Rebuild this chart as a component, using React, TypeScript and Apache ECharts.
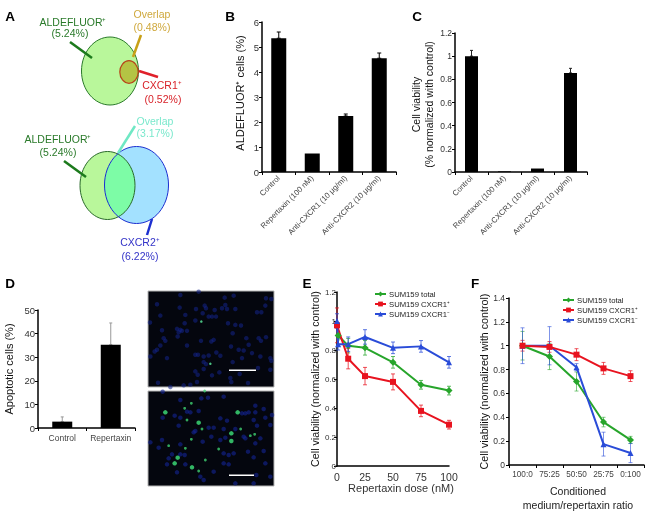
import React, { useEffect, useRef } from "react";
import * as echarts from "echarts";

const FONT = '"Liberation Sans", Arial, sans-serif';
const NARROW = '"Liberation Sans Narrow", "Liberation Sans", Arial, sans-serif';

const treatments = ["Control", "Repertaxin (100 nM)", "Anti-CXCR1 (10 μg/ml)", "Anti-CXCR2 (10 μg/ml)"];
const aldefluorPct = [5.35, 0.74, 2.24, 4.55];
const aldefluorErr = [0.25, 0, 0.08, 0.21];
const viabilityC = [1, 0.005, 0.03, 0.855];
const viabilityCErr = [0.05, 0, 0, 0.04];
const apoptosisCats = ["Control", "Repertaxin"];
const apoptosis = [2.7, 35.3];
const apoptosisErr = [2, 9.2];

const TOTAL = "SUM159 total";
const POS = "SUM159 CXCR1⁺";
const NEG = "SUM159 CXCR1⁻";

// [dose, viability, error]
const eTotal = [[1, 0.9, 0.03], [10, 0.83, 0.05], [25, 0.815, 0.05], [50, 0.715, 0.04], [75, 0.56, 0.03], [100, 0.52, 0.03]];
const ePos = [[0, 0.97, 0.12], [10, 0.74, 0.07], [25, 0.62, 0.06], [50, 0.58, 0.055], [75, 0.38, 0.04], [100, 0.285, 0.03]];
const eNeg = [[0, 1, 0.05], [1, 0.84, 0.04], [10, 0.84, 0.05], [25, 0.89, 0.05], [50, 0.815, 0.04], [75, 0.825, 0.04], [100, 0.715, 0.04]];

const ratios = ["100:0", "75:25", "50:50", "25:75", "0:100"];
const fTotal = [1, 0.91, 0.7, 0.36, 0.21];
const fTotalErr = [0.12, 0.11, 0.08, 0.04, 0.03];
const fPos = [1, 0.99, 0.925, 0.81, 0.745];
const fPosErr = [0.045, 0.045, 0.05, 0.05, 0.045];
const fNeg = [1, 1, 0.82, 0.175, 0.1];
const fNegErr = [0.15, 0.16, 0.03, 0.1, 0.08];

const nuclei1 = [[160,10],[105,20],[238,28],[265,22],[362,30],[378,32],[35,48],[103,58],[178,52],[182,60],[152,62],[240,50],[230,60],[245,62],[208,65],[270,62],[360,52],[335,72],[348,72],[45,82],[120,80],[172,75],[190,85],[200,85],[212,85],[150,97],[118,105],[14,103],[248,105],[270,110],[287,112],[50,126],[95,122],[105,125],[110,128],[100,132],[125,128],[97,145],[262,135],[55,150],[60,158],[303,150],[340,150],[362,147],[347,158],[205,155],[198,160],[167,158],[45,172],[35,185],[28,190],[125,172],[257,175],[310,170],[280,185],[295,187],[320,195],[345,205],[375,210],[15,205],[65,210],[150,200],[158,200],[175,205],[190,202],[213,193],[225,203],[175,222],[182,228],[262,222],[290,210],[378,218],[175,243],[150,250],[157,260],[222,253],[200,262],[283,258],[255,270],[258,282],[338,240],[375,245],[155,282],[135,290],[115,292],[38,284],[308,285],[75,297]];
const apoptotic1 = [[168,100],[195,227]];
const nuclei2 = [[52,10],[235,25],[105,35],[168,30],[188,28],[330,52],[355,62],[310,72],[300,75],[290,75],[330,72],[160,68],[125,70],[135,72],[88,82],[52,88],[105,88],[225,90],[245,97],[325,95],[360,88],[380,80],[100,112],[190,118],[205,118],[150,128],[145,132],[235,122],[270,122],[335,112],[375,110],[198,145],[225,155],[295,145],[300,150],[240,148],[345,150],[15,162],[50,155],[172,160],[105,168],[40,178],[355,188],[308,190],[330,165],[235,195],[250,200],[265,195],[80,198],[105,198],[118,200],[325,207],[70,210],[65,228],[120,228],[235,225],[250,228],[95,252],[205,250],[165,265],[175,275],[325,285],[333,260],[375,265],[270,285],[360,225]];
const apoptoticBig2 = [[60,72],[160,103],[258,135],[258,158],[97,208],[88,225],[140,237],[277,72]];
const apoptoticSmall2 = [[118,60],[138,45],[125,95],[170,122],[138,153],[286,122],[315,142],[328,138],[70,172],[120,180],[220,182],[180,215],[160,248],[178,8]];

const GREEN = "#27a52b";
const RED = "#e8131f";
const BLUE = "#2a4cd8";

function errSeries(xi: number, points: number[][], color: string, cap: number, width = 1, opacity = 1) {
  return {
    type: "custom",
    coordinateSystem: "cartesian2d",
    xAxisIndex: xi,
    yAxisIndex: xi,
    silent: true,
    z: 1,
    clip: false,
    encode: { x: 0, y: [1, 2] },
    data: points,
    renderItem: (_: any, api: any) => {
      const a = api.coord([api.value(0), api.value(1)]);
      const b = api.coord([api.value(0), api.value(2)]);
      const style = { stroke: color, lineWidth: width, opacity };
      const mk = (x1: number, y1: number, x2: number, y2: number) => ({ type: "line", shape: { x1, y1, x2, y2 }, style });
      return {
        type: "group",
        children: [mk(a[0], a[1], b[0], b[1]), mk(a[0] - cap, a[1], a[0] + cap, a[1]), mk(b[0] - cap, b[1], b[0] + cap, b[1])],
      };
    },
  };
}

const upper = (vals: number[], errs: number[]) => vals.map((v, i) => [i, v, v + errs[i]]).filter((p) => p[2] > p[1]);
const both = (vals: number[], errs: number[]) => vals.map((v, i) => [i, v - errs[i], v + errs[i]]);
const bothXY = (pts: number[][]) => pts.map((p) => [p[0], p[1] - p[2], p[1] + p[2]]);

function lineSeries(name: string, xi: number, data: any[], color: string, symbol: string, size: number) {
  return {
    type: "line",
    name,
    xAxisIndex: xi,
    yAxisIndex: xi,
    data,
    clip: false,
    z: 3,
    symbol,
    symbolSize: size,
    lineStyle: { color, width: 2 },
    itemStyle: { color },
  };
}

function barSeries(xi: number, data: number[], width: number) {
  return { type: "bar", xAxisIndex: xi, yAxisIndex: xi, data, barWidth: width, itemStyle: { color: "#000" }, z: 2 };
}

function scatter(xi: number, data: number[][], color: string, size: number) {
  return { type: "scatter", xAxisIndex: xi, yAxisIndex: xi, data, symbol: "circle", symbolSize: size, itemStyle: { color }, silent: true };
}

function txt(text: string, x: number, y: number, fill: string, size = 10.5, extra: any = {}) {
  return {
    type: "text",
    silent: true,
    style: { text, x, y, fill, font: `${size}px ${FONT}`, textAlign: "center", verticalAlign: "middle", ...extra },
  };
}
function seg(x1: number, y1: number, x2: number, y2: number, stroke: string, lineWidth = 2.5) {
  return { type: "line", silent: true, shape: { x1, y1, x2, y2 }, style: { stroke, lineWidth } };
}
function ell(cx: number, cy: number, rx: number, ry: number, fill: string, stroke: string, lineWidth = 1) {
  return { type: "ellipse", silent: true, shape: { cx, cy, rx, ry }, style: { fill, stroke, lineWidth } };
}
function lens(a: number[], b: number[]) {
  const inside = (e: number[], x: number, y: number) => ((x - e[0]) / e[2]) ** 2 + ((y - e[1]) / e[3]) ** 2 <= 1;
  const trace = (e: number[], o: number[]) => {
    const out: number[][] = [];
    for (let i = 0; i < 360; i += 2) {
      const t = (i * Math.PI) / 180;
      const x = e[0] + e[2] * Math.cos(t);
      const y = e[1] + e[3] * Math.sin(t);
      if (inside(o, x, y)) out.push([x, y]);
    }
    return out;
  };
  const pts = [...trace(a, b), ...trace(b, a)];
  const mx = (a[0] + b[0] + a[2] - b[2]) / 2;
  const my = (a[1] + b[1]) / 2;
  return pts.sort((p, q) => Math.atan2(p[1] - my, p[0] - mx) - Math.atan2(q[1] - my, q[0] - mx));
}

const axisLine = { show: true, onZero: false, lineStyle: { color: "#000", width: 1.5 } };
const tick = { show: true, length: 3, lineStyle: { color: "#000", width: 1 } };

function catAxis(i: number, data: string[], labelSize: number, rotate = 0, extra: any = {}) {
  return {
    type: "category",
    gridIndex: i,
    data,
    axisLine,
    axisTick: tick,
    axisLabel: { fontFamily: FONT, fontSize: labelSize, color: "#444", rotate, margin: 5, interval: 0 },
    ...extra,
  };
}
function valAxis(i: number, max: number, interval: number, name: string, nameGap: number, labelSize: number, extra: any = {}) {
  const { axisLabel, nameTextStyle, ...rest } = extra;
  return {
    type: "value",
    gridIndex: i,
    min: 0,
    max,
    interval,
    name,
    nameLocation: "middle",
    nameRotate: 90,
    nameGap,
    nameTextStyle: { fontFamily: FONT, fontSize: 11, color: "#111", ...nameTextStyle },
    axisLine,
    axisTick: tick,
    splitLine: { show: false },
    axisLabel: { fontFamily: FONT, fontSize: labelSize, color: "#333", margin: 3, ...axisLabel },
    ...rest,
  };
}
const hiddenX = (i: number) => ({ type: "value", gridIndex: i, min: 8, max: 386, show: false, splitLine: { show: false } });
const hiddenY = (i: number, max: number) => ({ type: "value", gridIndex: i, min: 8, max, inverse: true, show: false, splitLine: { show: false } });

const legendCommon = {
  orient: "vertical",
  selectedMode: false,
  itemWidth: 11,
  itemHeight: 6,
  itemGap: 2,
  padding: 0,
  textStyle: { fontFamily: FONT, fontSize: 7.7, color: "#222", padding: [0, 0, 0, -2] },
  data: [TOTAL, POS, NEG],
};

const vennA = [110, 71, 28.5, 34];
const vennB1 = [107.5, 185.5, 27.5, 34];
const vennB2 = [136.5, 185, 32, 38.5];
const letterFont = `bold 13.5px ${FONT}`;

export default function App() {
  const ref = useRef<HTMLDivElement>(null);
  useEffect(() => {
    const chart = echarts.init(ref.current!, undefined, { renderer: "svg" });
    const grid = (left: number, top: number, width: number, height: number, extra: any = {}) => ({ left, top, width, height, containLabel: false, ...extra });
    const imgGrid = { show: true, backgroundColor: "#04060e", borderColor: "#b5b5b5", borderWidth: 1 };
    const option: any = {
      animation: false,
      backgroundColor: "#fff",
      grid: [
        grid(262, 22, 134, 150),
        grid(455, 33, 132, 139),
        grid(38, 310, 97, 118),
        grid(337, 292, 112, 174),
        grid(509, 298, 135, 167),
        grid(148, 291, 126, 96, imgGrid),
        grid(148, 391, 126, 95, imgGrid),
      ],
      xAxis: [
        catAxis(0, treatments, 7.8, 45),
        catAxis(1, treatments, 7.8, 45),
        catAxis(2, apoptosisCats, 8.5),
        {
          type: "value",
          gridIndex: 3,
          min: 0,
          max: 100,
          interval: 25,
          name: "Repertaxin dose (nM)",
          nameLocation: "middle",
          nameGap: 15,
          nameTextStyle: { fontFamily: FONT, fontSize: 11, color: "#333", padding: [0, 0, 0, 16] },
          axisLine,
          axisTick: { show: false },
          splitLine: { show: false },
          axisLabel: { fontFamily: FONT, fontSize: 10.5, color: "#333", margin: 5 },
        },
        catAxis(4, ratios, 8.2, 0, {
          name: "Conditioned\nmedium/repertaxin ratio",
          nameLocation: "middle",
          nameGap: 19,
          nameTextStyle: { fontFamily: FONT, fontSize: 10.5, color: "#222", lineHeight: 14, padding: [0, 0, 0, 3] },
        }),
        hiddenX(5),
        hiddenX(6),
      ],
      yAxis: [
        valAxis(0, 6, 1, "ALDEFLUOR⁺ cells (%)", 17, 9.5, { nameTextStyle: { padding: [0, 0, 0, 8] } }),
        valAxis(1, 1.2, 0.2, "Cell viability\n(% normalized with control)", 20, 8.5, {
          nameTextStyle: { fontSize: 10.5, lineHeight: 13, padding: [0, 4, 0, 0] },
          axisLabel: { fontFamily: NARROW },
        }),
        valAxis(2, 50, 10, "Apoptotic cells (%)", 24, 9.5, { nameTextStyle: { fontSize: 11 } }),
        valAxis(3, 1.2, 0.2, "Cell viability (normalized with control)", 16, 8, { axisLabel: { margin: 1 }, nameTextStyle: { fontSize: 10.7 } }),
        valAxis(4, 1.4, 0.2, "Cell viability (normalized with control)", 17, 8.5, { axisLabel: { margin: 4 }, nameTextStyle: { fontSize: 10.7 } }),
        hiddenY(5, 297),
        hiddenY(6, 293),
      ],
      legend: [
        { ...legendCommon, left: 374, top: 290 },
        { ...legendCommon, left: 562, top: 296 },
      ],
      series: [
        errSeries(0, upper(aldefluorPct, aldefluorErr), "#000", 2),
        barSeries(0, aldefluorPct, 15),
        errSeries(1, upper(viabilityC, viabilityCErr), "#222", 1.5),
        barSeries(1, viabilityC, 13),
        errSeries(2, upper(apoptosis, apoptosisErr), "#999", 1.5),
        barSeries(2, apoptosis, 20),

        errSeries(3, bothXY(eTotal), GREEN, 2, 1, 0.75),
        errSeries(3, bothXY(ePos), RED, 2, 1, 0.75),
        errSeries(3, bothXY(eNeg), BLUE, 2, 1, 0.75),
        lineSeries(TOTAL, 3, eTotal.map((p) => [p[0], p[1]]), GREEN, "diamond", 7),
        lineSeries(POS, 3, ePos.map((p) => [p[0], p[1]]), RED, "rect", 6),
        lineSeries(NEG, 3, eNeg.map((p) => [p[0], p[1]]), BLUE, "triangle", 6),

        errSeries(4, both(fTotal, fTotalErr), GREEN, 2, 1, 0.6),
        errSeries(4, both(fPos, fPosErr), RED, 2, 1, 0.7),
        errSeries(4, both(fNeg, fNegErr), BLUE, 2, 1, 0.6),
        lineSeries(TOTAL, 4, fTotal, GREEN, "diamond", 7),
        lineSeries(NEG, 4, fNeg, BLUE, "triangle", 6),
        lineSeries(POS, 4, fPos, RED, "rect", 6),

        scatter(5, nuclei1, "rgba(20,35,135,0.7)", 4.5),
        scatter(5, apoptotic1, "#5cf0a0", 2.5),
        scatter(6, nuclei2, "rgba(20,35,145,0.78)", 4.5),
        scatter(6, apoptoticBig2, "#3fe27a", 4.5),
        scatter(6, apoptoticSmall2, "#3ed070", 2.8),
      ],
      graphic: {
        elements: [
          txt("A", 10, 16, "#000", 12, { font: letterFont }),
          txt("B", 230, 16, "#000", 12, { font: letterFont }),
          txt("C", 417, 16, "#000", 12, { font: letterFont }),
          txt("D", 10, 283, "#000", 12, { font: letterFont }),
          txt("E", 307, 283, "#000", 12, { font: letterFont }),
          txt("F", 475, 283, "#000", 12, { font: letterFont }),

          ell(vennA[0], vennA[1], vennA[2], vennA[3], "#b9f79b", "#2a7a2a"),
          ell(129, 72, 9.2, 11.3, "#b4c444", "#b8441a", 1.2),
          seg(70, 42, 92, 58, "#1c7a1c"),
          seg(141, 35, 133, 57, "#c8a018"),
          seg(139, 71, 158, 77, "#e0202a"),
          txt("ALDEFLUOR⁺", 73, 22, "#2a7a2a"),
          txt("(5.24%)", 70, 33, "#2a7a2a"),
          txt("Overlap", 152, 14, "#cfa83c"),
          txt("(0.48%)", 152, 27, "#cfa83c"),
          txt("CXCR1⁺", 162, 85, "#d8232a"),
          txt("(0.52%)", 163, 99, "#d8232a"),

          ell(vennB1[0], vennB1[1], vennB1[2], vennB1[3], "#b9f79b", "none"),
          ell(vennB2[0], vennB2[1], vennB2[2], vennB2[3], "#a3e1ff", "none"),
          { type: "polygon", silent: true, shape: { points: lens(vennB1, vennB2) }, style: { fill: "#7dfca6" } },
          ell(vennB1[0], vennB1[1], vennB1[2], vennB1[3], "none", "#2a6a2a"),
          ell(vennB2[0], vennB2[1], vennB2[2], vennB2[3], "none", "#1c2fd0"),
          seg(64, 161, 86, 177, "#1c7a1c"),
          seg(135, 126, 118, 153, "#6fe8c4"),
          seg(152, 219, 147, 235, "#1c2fd0"),
          txt("ALDEFLUOR⁺", 58, 139, "#2a7a2a"),
          txt("(5.24%)", 58, 152, "#2a7a2a"),
          txt("Overlap", 155, 121, "#79e8cc"),
          txt("(3.17%)", 155, 133, "#79e8cc"),
          txt("CXCR2⁺", 140, 242, "#3434c8"),
          txt("(6.22%)", 140, 256, "#3434c8"),

          { type: "rect", silent: true, z: 10, shape: { x: 229, y: 369.5, width: 27, height: 1.5 }, style: { fill: "#fff" } },
          { type: "rect", silent: true, z: 10, shape: { x: 229, y: 474.5, width: 25, height: 1.5 }, style: { fill: "#fff" } },
        ],
      },
    };
    chart.setOption(option);
    return () => chart.dispose();
  }, []);
  return <div ref={ref} style={{ position: "absolute", left: 0, top: 0, width: 658, height: 515, filter: "blur(0.35px)" }} />;
}
